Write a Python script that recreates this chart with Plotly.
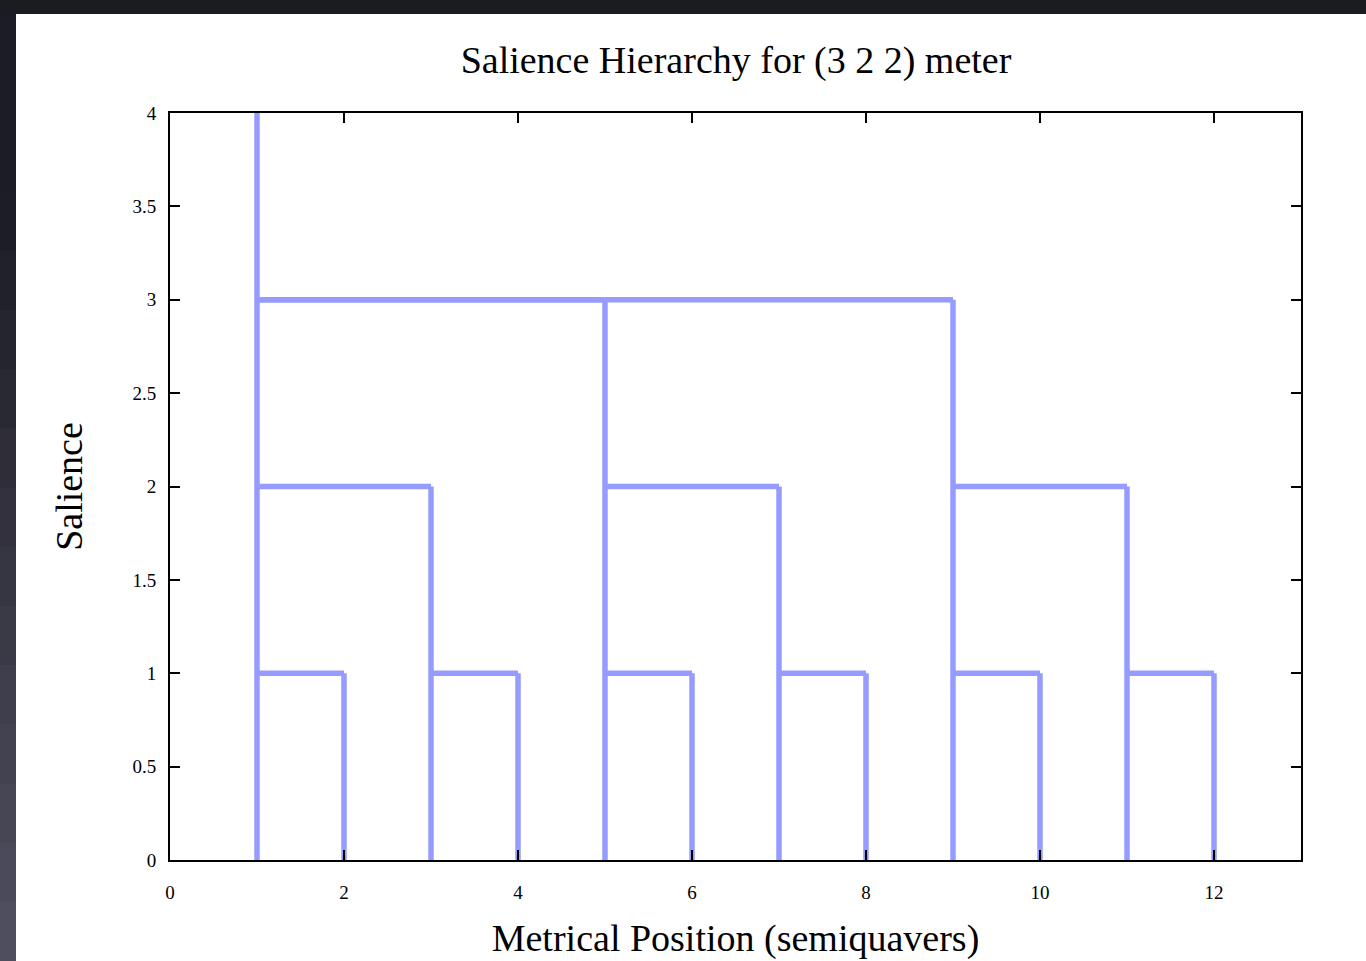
import plotly.graph_objects as go

# Metrical positions (semiquavers) and their salience levels
positions = [1, 2, 3, 4, 5, 6, 7, 8, 9, 10, 11, 12]
salience = [4, 1, 2, 1, 3, 1, 2, 1, 3, 1, 2, 1]

x_ticks = [0, 2, 4, 6, 8, 10, 12]
y_ticks = [0, 0.5, 1, 1.5, 2, 2.5, 3, 3.5, 4]
y_tick_text = ["0", "0.5", "1", "1.5", "2", "2.5", "3", "3.5", "4"]

# Build the hierarchy segments from the data
xs, ys = [], []
for i, (p, s) in enumerate(zip(positions, salience)):
    xs += [p, p, None]
    ys += [0, s, None]
    parent = None
    for j in range(i - 1, -1, -1):
        if salience[j] > s:
            parent = positions[j]
            break
    if parent is not None:
        xs += [parent, p, None]
        ys += [s, s, None]

fig = go.Figure()
fig.add_trace(go.Scatter(x=xs, y=ys, mode="lines",
                         line=dict(color="#959bff", width=5.5),
                         hoverinfo="skip", showlegend=False))

W, H = 1366, 961
L, R, T, B = 170, 1301, 113, 860
pw, ph = R - L, B - T


def px_x(v):
    return (v - L) / pw


def px_y(v):
    return (B - v) / ph


# dark backdrop with a gradient on the left strip
nb = 16
for k in range(nb):
    y0 = 14 + (H - 14) * k / nb
    y1 = 14 + (H - 14) * (k + 1) / nb + 1
    t = (k + 0.5) / nb
    t = max(0.0, (t - 0.2) / 0.8)
    r = int(0x1c + (0x52 - 0x1c) * t)
    g = int(0x1c + (0x51 - 0x1c) * t)
    b = int(0x24 + (0x62 - 0x24) * t)
    fig.add_shape(type="rect", xref="paper", yref="paper",
                  x0=px_x(-5), x1=px_x(16), y0=px_y(y1), y1=px_y(y0),
                  fillcolor=f"rgb({r},{g},{b})", line=dict(width=0), layer="below")

fig.add_shape(type="rect", xref="paper", yref="paper",
              x0=px_x(16), x1=px_x(W + 5),
              y0=px_y(H + 5), y1=px_y(14),
              fillcolor="white", line=dict(width=0), layer="below")

serif = "Liberation Serif, Times New Roman, serif"
fig.update_layout(
    width=W, height=H,
    margin=dict(l=L, r=W - R, t=T, b=H - B, autoexpand=False),
    paper_bgcolor="#1b1b22",
    plot_bgcolor="white",
    font=dict(family=serif, color="black"),
    title=dict(text="Salience Hierarchy for (3 2 2) meter",
               font=dict(size=38, family=serif, color="black"),
               x=736 / W, xanchor="center", y=1 - 60 / H, yanchor="middle"),
)
fig.update_xaxes(range=[0, 13], tickvals=x_ticks, ticks="inside", ticklen=10,
                 tickwidth=1.5, tickcolor="black", showline=True, linecolor="black",
                 linewidth=2, mirror="allticks", showgrid=False, zeroline=False,
                 automargin=False,
                 tickfont=dict(size=19, family=serif), ticklabelstandoff=14,
                 title=dict(text="Metrical Position (semiquavers)",
                            font=dict(size=38, family=serif), standoff=23))
fig.update_yaxes(range=[0, 4], tickvals=y_ticks, ticktext=y_tick_text, ticks="inside",
                 ticklen=10, tickwidth=1.5, tickcolor="black", showline=True,
                 linecolor="black", linewidth=2, mirror="allticks", showgrid=False,
                 zeroline=False, automargin=False, tickfont=dict(size=19, family=serif),
                 ticklabelstandoff=8,
                 title=dict(text="Salience", font=dict(size=38, family=serif),
                            standoff=38))

fig.write_html("out.html",
               config={"displayModeBar": False},
               post_script="document.body.style.margin='0';"
                           "document.body.style.background='#1b1b22';"
                           "document.documentElement.style.overflow='hidden';")
